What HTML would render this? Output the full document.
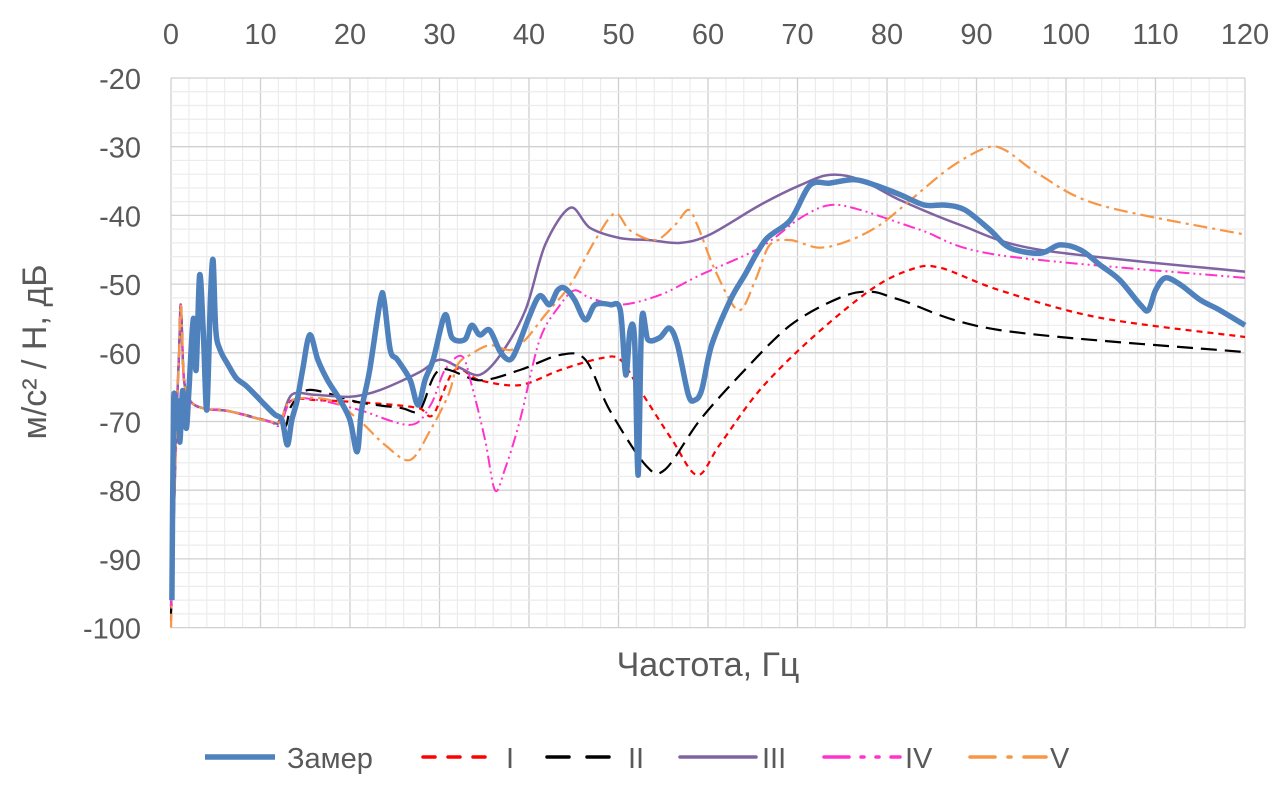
<!DOCTYPE html>
<html><head><meta charset="utf-8">
<style>
html,body{margin:0;padding:0;background:#fff;}
svg text{font-family:"Liberation Sans",sans-serif;fill:#595959;}
</style></head>
<body>
<svg id="chart" width="1278" height="785" viewBox="0 0 1278 785" xmlns="http://www.w3.org/2000/svg">
<g id="grid"></g>
<g id="axes"></g>
<g id="series"></g>
<text transform="translate(46,352) rotate(-90)" text-anchor="middle" font-size="34">м/с² / Н, дБ</text>
<text x="708" y="676" text-anchor="middle" font-size="34">Частота, Гц</text>
<g id="legend"></g>
</svg>
<script>
const xTicks=[0,10,20,30,40,50,60,70,80,90,100,110,120];
const yTicks=[-20,-30,-40,-50,-60,-70,-80,-90,-100];
const seriesNames=["Замер","I","II","III","IV","V"];
const zamerX=[0.1,0.3,0.6,0.8,1,1.3,1.7,2,2.5,2.8,3.2,3.6,4,4.4,4.7,5,5.5,6.4,7.3,8.3,9.4,10.5,11.6,12.4,13,13.5,14.1,14.7,15.5,16.4,17.5,18.9,20,20.8,21.3,22.2,23.4,23.8,24.5,25.3,26.7,27.6,28.4,29.3,30.6,31.4,32.8,33.6,34.5,35.6,36.8,37.9,38.8,40.1,41.2,42.3,43.2,44,45.1,46.3,47.4,49.1,50.2,50.8,51.3,51.8,52.2,52.6,53.3,54.6,55.7,56.6,57.8,58.5,59.3,60.4,62.5,64.1,66.4,69.2,71.4,73.6,76.4,78.7,81.5,84.2,86.5,88.7,91.5,93.7,97.1,99.3,101.6,103.8,106,108.3,109.2,110,111.1,112.8,115,117.2,120];
const zamerY=[-96,-67,-71,-67,-73,-65.5,-71,-65.5,-55,-62.5,-48.7,-56.7,-68.3,-52.3,-46.5,-56.7,-59.6,-61.8,-63.7,-64.7,-66.1,-67.6,-69,-69.8,-73.4,-69.8,-66.9,-62.5,-57.4,-61,-64,-66.9,-69.8,-74.4,-68.3,-62.5,-52.3,-52.3,-59.6,-61,-63.9,-67.6,-63.9,-61,-54.5,-57.8,-58.1,-56,-57.4,-56.7,-59.9,-61,-58.9,-54.5,-51.7,-53,-50.9,-50.6,-52.3,-55.2,-53,-53,-53.8,-63.2,-56.7,-58.1,-77.8,-55.2,-58.1,-57.8,-56.4,-58.9,-66.1,-66.9,-65.4,-58.9,-52.3,-48.7,-43.6,-40.7,-35.6,-35.3,-34.8,-35.6,-37,-38.5,-38.5,-39.2,-42.1,-44.7,-45.5,-44.3,-45,-47.2,-49.4,-53,-53.8,-50.9,-49.1,-50.1,-52.3,-53.8,-56];
const s1X=[0,0.4,0.6,0.9,1.1,1.4,1.8,2.5,4,6.5,11,12.2,13.5,16.5,21,25,27.8,29.3,31.7,34.5,39,43.5,48,50.2,52.4,56,58.8,61.3,65.8,71.4,78.1,82.6,85.9,92.6,103.8,120];
const s1Y=[-99,-80,-70,-60,-53,-63,-66,-67.5,-68.2,-68.5,-70,-69.8,-66.9,-66.9,-67.2,-67.6,-68.1,-69,-62.5,-64,-64.7,-62.5,-60.8,-61,-65.4,-72.7,-77.8,-73.4,-65.4,-58.1,-50.9,-47.9,-47.6,-50.9,-54.9,-57.7];
const s2X=[0,0.4,0.6,0.9,1.1,1.4,1.8,2.5,4,6.5,11,12.7,13.5,15.5,21,25.6,27.8,30,34.5,39,43.5,46.3,49,53,55.2,59.1,63.6,69.2,74.7,78.1,81.5,92.6,120];
const s2Y=[-98,-80,-70,-60,-53,-63,-66,-67.5,-68.2,-68.5,-70,-70.9,-67.6,-65.4,-67.2,-68,-68.3,-62.5,-64,-62.5,-60.3,-61,-68.3,-76.3,-77,-69.8,-63.2,-56,-52,-51.1,-52.3,-56.7,-59.9];
const s3X=[0,0.4,0.6,0.9,1.1,1.4,1.8,2.5,4,6.5,11,12.2,13.5,16,20,23.4,27.8,30,32.3,34.5,36.8,39.6,41.8,44.6,46.8,50.2,53.5,56.9,60.2,65.8,70.3,73.6,77,81.5,88.2,97.1,120];
const s3Y=[-97,-80,-70,-60,-53,-63,-66,-67.5,-68.2,-68.5,-70,-70,-66.1,-66.1,-66.4,-65.4,-62.8,-61,-62.2,-63.2,-60.3,-53.8,-44.3,-38.9,-41.8,-43.3,-43.6,-44,-42.8,-38.5,-35.6,-34.1,-34.8,-37.8,-41.4,-45,-48.2];
const s4X=[0,0.4,0.6,0.9,1.1,1.4,1.8,2.5,4,6.5,11,12.2,13.5,16.5,21,26.7,29,30.6,32.5,33.6,35.1,36.2,37.3,39,41.2,43.5,45.1,46.8,50.2,54.6,59.1,65.8,70.3,73.6,77,83.7,92.6,120];
const s4Y=[-97,-80,-70,-60,-53,-63,-66,-67.5,-68.2,-68.5,-70,-70.5,-66.9,-66.9,-68.3,-70.5,-67.6,-62.5,-60.5,-64.7,-72.7,-80,-77,-69.8,-58.1,-53,-50.9,-52,-53,-51.6,-48.7,-44.7,-40.4,-38.5,-39.2,-42.1,-45.8,-49.1];
const s5X=[0,0.4,0.6,0.9,1.1,1.4,1.8,2.5,4,6.5,11,12.2,13.5,17.8,21,23.9,26.7,29,31,32,33.4,35.6,37.9,39.6,41.8,44.6,47.4,49.6,51.3,54.1,56.3,57.8,58.8,60.8,63.4,65.3,66.9,69.2,72.5,75.9,79.2,82.6,87,91,93.2,97.1,103.8,120];
const s5Y=[-100,-80,-70,-60,-53,-63,-66,-67.5,-68.2,-68.5,-70,-70,-66.9,-66.9,-69.8,-73.4,-75.6,-71.2,-66.1,-61.8,-60.3,-58.9,-59.6,-58.1,-54.5,-50.1,-43.6,-39.7,-42.2,-43.6,-41.4,-39.2,-41.4,-48,-53.8,-49.4,-44.3,-43.6,-44.7,-43.6,-41.4,-37.8,-33.1,-30.2,-30.5,-34.1,-38.5,-42.8];

const X0=171,X1=1245,Y0=78,Y1=627.6;
const xScale=v=>X0+(v-0)/120*(X1-X0);
const yScale=v=>Y0+(-20-v)/80*(Y1-Y0);
const NS="http://www.w3.org/2000/svg";
function mk(tag,attrs,parent){const e=document.createElementNS(NS,tag);for(const k in attrs)e.setAttribute(k,attrs[k]);parent.appendChild(e);return e;}
function smooth(pts){
  let d='M'+pts[0][0].toFixed(1)+' '+pts[0][1].toFixed(1);
  for(let i=0;i<pts.length-1;i++){
    const p0=pts[i-1]||pts[i],p1=pts[i],p2=pts[i+1],p3=pts[i+2]||p2;
    const t=0.16;
    const c1=[p1[0]+(p2[0]-p0[0])*t,p1[1]+(p2[1]-p0[1])*t];
    const c2=[p2[0]-(p3[0]-p1[0])*t,p2[1]-(p3[1]-p1[1])*t];
    d+=' C'+c1[0].toFixed(1)+' '+c1[1].toFixed(1)+' '+c2[0].toFixed(1)+' '+c2[1].toFixed(1)+' '+p2[0].toFixed(1)+' '+p2[1].toFixed(1);
  }
  return d;
}
const grid=document.getElementById('grid');
for(let v=0;v<=120;v+=2){
  const l=mk('line',{x1:xScale(v),x2:xScale(v),y1:Y0,y2:Y1,stroke:v%10===0?'#d0d0d0':'#ececec','stroke-width':v%10===0?1.3:1.2},grid);
  
  
}
for(let v=-100;v<=-20;v+=2){
  const l=mk('line',{x1:X0,x2:X1,y1:yScale(v),y2:yScale(v),stroke:v%10===0?'#d0d0d0':'#ececec','stroke-width':v%10===0?1.3:1.2},grid);
  
  
}
const axes=document.getElementById('axes');
xTicks.forEach(t=>{
  const e=mk('text',{x:xScale(t),y:44,'text-anchor':'middle','font-size':29},axes);
  e.textContent=t;
  
  
});
yTicks.forEach(t=>{
  const e=mk('text',{x:141,y:yScale(t)+11,'text-anchor':'end','font-size':29},axes);
  e.textContent=t;
  
  
});
const styles=[
 {c:'#4f81bd',w:5.5,d:''},
 {c:'#ff0000',w:2.2,d:'6 5'},
 {c:'#000000',w:2.2,d:'16 8'},
 {c:'#8064a2',w:2.5,d:''},
 {c:'#ff33cc',w:2,d:'12 4 2 4 2 4'},
 {c:'#f79646',w:2.2,d:'14 5 3 5'}
];
const legendDash=['','12 13','22 18','','25 12 3 12 3 12','25 13 3 13'];
const data=[[zamerX,zamerY],[s1X,s1Y],[s2X,s2Y],[s3X,s3Y],[s4X,s4Y],[s5X,s5Y]];
const sg=document.getElementById('series');
[1,2,3,4,5,0].forEach(i=>{
  const [xs,ys]=data[i];
  const pts=xs.map((x,j)=>[xScale(x),yScale(ys[j])]);
  const p=mk('path',{d:smooth(pts),fill:'none',stroke:styles[i].c,'stroke-width':styles[i].w,'stroke-dasharray':styles[i].d,'stroke-linejoin':'round'},sg);
  
  
});
const lg=document.getElementById('legend');
const lx=[205,423,547,680,824,970],lw=[70,64,67,76,76,76],tx=[287,506,628,762,905,1050];
seriesNames.forEach((n,i)=>{
  const l=mk('line',{x1:lx[i],x2:lx[i]+lw[i],y1:757,y2:757,stroke:styles[i].c,'stroke-width':i===0?5.5:3.5,'stroke-dasharray':legendDash[i],'stroke-linecap':i===0?'butt':'round'},lg);
  
  
  const t=mk('text',{x:tx[i],y:768,'font-size':29},lg);
  t.textContent=n;
  
  
});
</script>
</body></html>
